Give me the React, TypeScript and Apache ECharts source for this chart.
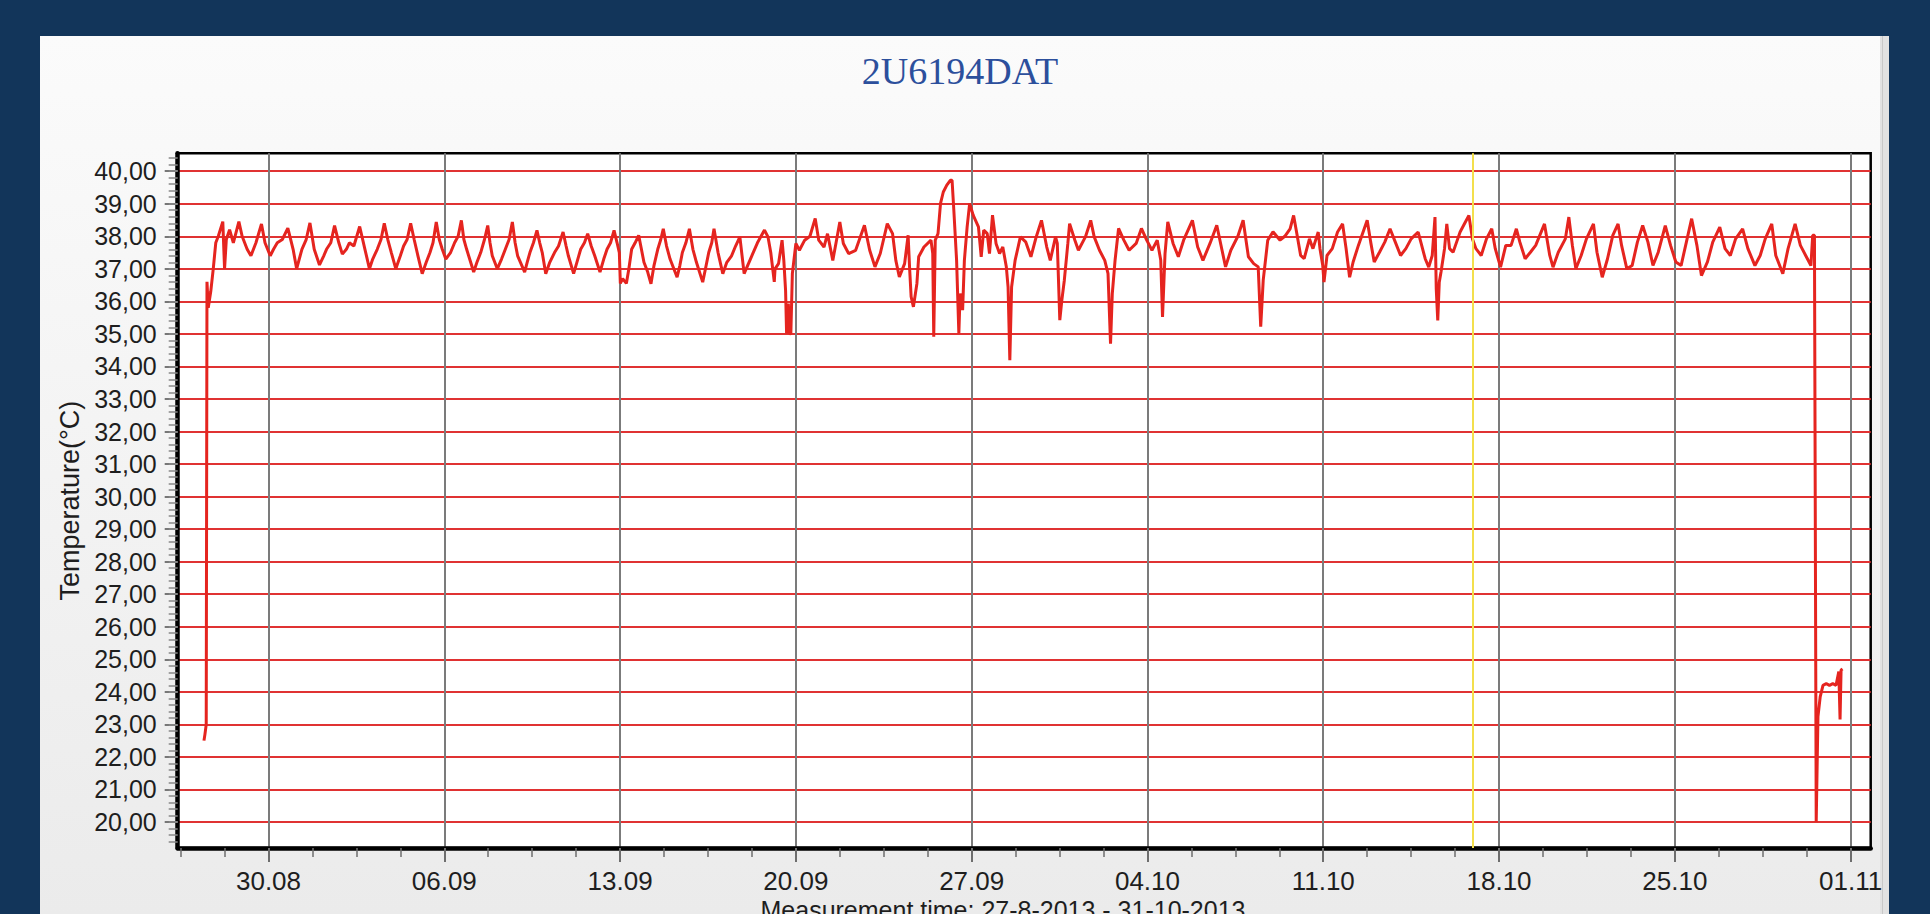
import React, { useEffect, useRef } from 'react';
import * as echarts from 'echarts';

const chartTitle = '2U6194DAT';
const yAxisTitle = 'Temperature(°C)';
const xAxisTitle = 'Measurement time: 27-8-2013 - 31-10-2013';

// time origin of the day offsets below (UTC)
const seriesStart = '2013-08-27T00:00:00Z';
const axisStart = '2013-08-26T09:13:00Z';
const axisEnd = '2013-11-01T19:12:00Z';
const markerTime = '2013-10-16T22:50:00Z';

const yMin = 19.2;
const yMax = 40.55;
const yTickValues = [20, 21, 22, 23, 24, 25, 26, 27, 28, 29, 30, 31, 32, 33, 34, 35, 36, 37, 38, 39, 40];
const xTickDates = ['2013-08-30', '2013-09-06', '2013-09-13', '2013-09-20', '2013-09-27', '2013-10-04', '2013-10-11', '2013-10-18', '2013-10-25', '2013-11-01'];

// days since seriesStart
const dayOffsets = [
  0.43, 0.47, 0.52, 0.55, 0.60, 0.70, 0.80, 0.90, 1.00, 1.18, 1.25, 1.32, 1.45, 1.60, 1.82, 1.95,
  2.15, 2.30, 2.50, 2.72, 2.86, 3.07, 3.20, 3.35, 3.55, 3.77, 3.98, 4.12, 4.33, 4.50, 4.65, 4.82,
  5.03, 5.20, 5.31, 5.48, 5.63, 5.80, 5.94, 6.10, 6.22, 6.40, 6.63, 6.84, 7.02, 7.15, 7.33, 7.48,
  7.61, 7.75, 7.89, 8.07, 8.25, 8.38, 8.52, 8.66, 8.80, 8.95, 9.12, 9.28, 9.43, 9.55, 9.68, 9.80,
  9.92, 10.06, 10.25, 10.41, 10.55, 10.68, 10.78, 10.89, 11.05, 11.17, 11.30, 11.45, 11.60, 11.73, 11.82, 11.91,
  12.11, 12.28, 12.43, 12.58, 12.71, 12.82, 12.92, 13.20, 13.30, 13.41, 13.55, 13.69, 13.80, 13.90, 14.04, 14.20,
  14.39, 14.55, 14.73, 14.85, 14.94, 15.15, 15.28, 15.43, 15.58, 15.71, 15.85, 15.99, 16.20, 16.35, 16.48, 16.62,
  16.76, 16.88, 16.97, 17.01, 17.10, 17.25, 17.35, 17.46, 17.60, 17.74, 17.85, 17.95, 18.10, 18.23, 18.35, 18.50,
  18.62, 18.72, 18.85, 18.99, 19.27, 19.38, 19.48, 19.62, 19.76, 19.90, 20.04, 20.29, 20.40, 20.53, 20.65, 20.74,
  20.90, 21.09, 21.25, 21.44, 21.60, 21.77, 21.94, 22.19, 22.47, 22.75, 22.89, 23.00, 23.14, 23.17, 23.31, 23.45,
  23.52, 23.59, 23.63, 23.66, 23.70, 23.75, 23.80, 23.86, 24.00, 24.14, 24.35, 24.56, 24.77, 24.91, 25.12, 25.26,
  25.47, 25.60, 25.75, 25.89, 26.10, 26.38, 26.73, 26.94, 27.15, 27.36, 27.64, 27.85, 27.98, 28.12, 28.33, 28.47,
  28.53, 28.59, 28.68, 28.82, 28.89, 29.10, 29.38, 29.45, 29.49, 29.55, 29.66, 29.76, 29.87, 30.01, 30.15, 30.22,
  30.29, 30.40, 30.49, 30.54, 30.64, 30.71, 30.82, 30.92, 31.06, 31.27, 31.38, 31.48, 31.62, 31.71, 31.83, 31.97,
  32.11, 32.24, 32.38, 32.45, 32.52, 32.59, 32.73, 32.94, 33.15, 33.36, 33.57, 33.78, 33.99, 34.13, 34.34, 34.41,
  34.51, 34.59, 34.69, 34.83, 34.90, 35.11, 35.25, 35.53, 35.74, 35.88, 36.09, 36.30, 36.43, 36.53, 36.60, 36.71,
  36.85, 37.06, 37.27, 37.55, 37.76, 37.97, 38.18, 38.39, 38.53, 38.60, 38.70, 38.81, 39.02, 39.23, 39.44, 39.79,
  40.00, 40.21, 40.49, 40.76, 40.97, 41.11, 41.32, 41.60, 41.81, 42.02, 42.23, 42.41, 42.51, 42.61, 42.79, 43.00,
  43.28, 43.47, 43.68, 43.82, 43.96, 44.10, 44.24, 44.45, 44.59, 44.80, 44.87, 44.98, 45.03, 45.15, 45.36, 45.57,
  45.77, 45.91, 46.05, 46.19, 46.40, 46.75, 46.89, 47.03, 47.24, 47.45, 47.66, 47.87, 48.08, 48.29, 48.50, 48.78,
  48.92, 49.06, 49.20, 49.34, 49.45, 49.50, 49.56, 49.62, 49.69, 49.83, 49.92, 50.03, 50.17, 50.31, 50.45, 50.66,
  50.80, 50.94, 51.08, 51.29, 51.50, 51.71, 51.85, 52.06, 52.27, 52.48, 52.69, 52.83, 53.04, 53.25, 53.46, 53.81,
  54.02, 54.15, 54.36, 54.64, 54.78, 54.92, 55.06, 55.27, 55.48, 55.76, 55.90, 56.11, 56.32, 56.53, 56.74, 56.88,
  57.09, 57.30, 57.51, 57.72, 57.93, 58.13, 58.34, 58.62, 58.83, 59.04, 59.25, 59.46, 59.67, 59.88, 60.06, 60.30,
  60.51, 60.79, 61.00, 61.21, 61.42, 61.70, 61.91, 62.19, 62.40, 62.60, 62.86, 63.02, 63.30, 63.51, 63.79, 64.00,
  64.21, 64.42, 64.49, 64.56, 64.63, 64.70, 64.79, 64.90, 65.03, 65.16, 65.29, 65.42, 65.53, 65.58, 65.62, 65.68,
];

const temperatures = [
  22.5, 22.7, 23.0, 36.6, 35.8, 36.3, 37.0, 37.8, 38.0, 38.45, 37.0, 37.9, 38.2, 37.8, 38.45, 38.0,
  37.6, 37.4, 37.8, 38.38, 37.8, 37.4, 37.6, 37.8, 37.9, 38.25, 37.6, 37.0, 37.6, 37.9, 38.41, 37.6,
  37.12, 37.4, 37.6, 37.8, 38.33, 37.8, 37.45, 37.6, 37.8, 37.7, 38.3, 37.6, 37.0, 37.3, 37.6, 37.9,
  38.4, 37.9, 37.5, 37.0, 37.4, 37.7, 37.9, 38.4, 37.9, 37.4, 36.85, 37.2, 37.5, 37.8, 38.44, 37.9,
  37.6, 37.3, 37.5, 37.8, 38.0, 38.49, 37.9, 37.6, 37.2, 36.9, 37.2, 37.5, 37.9, 38.33, 37.8, 37.4,
  37.0, 37.3, 37.6, 37.9, 38.44, 37.8, 37.4, 36.9, 37.2, 37.5, 37.8, 38.18, 37.8, 37.5, 36.85, 37.2,
  37.5, 37.7, 38.13, 37.7, 37.4, 36.85, 37.2, 37.6, 37.8, 38.08, 37.7, 37.4, 36.9, 37.3, 37.6, 37.8,
  38.18, 37.8, 37.5, 36.55, 36.7, 36.55, 37.0, 37.6, 37.8, 38.03, 37.6, 37.2, 36.9, 36.54, 37.1, 37.6,
  37.9, 38.23, 37.7, 37.3, 36.74, 37.1, 37.5, 37.8, 38.23, 37.6, 37.2, 36.59, 37.0, 37.5, 37.8, 38.23,
  37.5, 36.85, 37.2, 37.4, 37.7, 37.98, 36.85, 37.3, 37.8, 38.19, 37.98, 37.5, 36.6, 37.0, 37.16, 37.88,
  37.26, 36.34, 35.01, 35.5, 35.93, 35.0, 35.01, 36.85, 37.78, 37.57, 37.88, 38.0, 38.55, 37.88, 37.67, 38.08,
  37.26, 37.8, 38.44, 37.78, 37.47, 37.57, 38.34, 37.57, 37.06, 37.47, 38.39, 38.08, 37.26, 36.75, 37.16, 38.03,
  37.0, 36.14, 35.83, 36.55, 37.37, 37.67, 37.88, 37.47, 34.91, 37.88, 38.08, 39.01, 39.36, 39.57, 39.72, 39.72,
  38.8, 37.26, 35.01, 36.24, 35.73, 37.26, 38.29, 39.01, 38.65, 38.29, 37.37, 38.19, 38.08, 37.47, 38.65, 37.78,
  37.47, 37.67, 37.06, 36.44, 34.19, 36.44, 37.26, 37.98, 37.83, 37.37, 37.98, 38.49, 37.67, 37.26, 37.98, 37.78,
  35.42, 36.03, 36.65, 37.78, 38.39, 37.88, 37.57, 37.98, 38.49, 37.98, 37.57, 37.26, 36.85, 34.7, 36.24, 37.26,
  38.24, 37.88, 37.57, 37.78, 38.24, 37.88, 37.57, 37.88, 37.26, 35.52, 37.47, 38.44, 37.78, 37.37, 37.88, 38.49,
  37.67, 37.26, 37.78, 38.34, 37.57, 37.06, 37.57, 38.0, 38.49, 37.37, 37.16, 37.06, 35.22, 36.65, 37.88, 38.14,
  37.88, 38.0, 38.23, 38.64, 38.03, 37.41, 37.31, 37.92, 37.62, 38.13, 37.62, 37.1, 36.59, 37.41, 37.62, 38.13,
  38.38, 37.62, 36.74, 37.21, 37.72, 38.49, 37.82, 37.21, 37.51, 37.82, 38.23, 37.82, 37.41, 37.62, 37.92, 38.13,
  37.72, 37.31, 37.05, 37.41, 38.59, 36.38, 35.41, 36.59, 36.9, 37.62, 38.38, 37.62, 37.51, 37.82, 38.13, 38.44,
  38.64, 37.92, 37.62, 37.41, 37.92, 38.23, 37.62, 37.05, 37.72, 37.72, 38.23, 37.82, 37.31, 37.51, 37.72, 38.38,
  37.41, 37.05, 37.51, 37.92, 38.59, 37.72, 37.0, 37.41, 37.92, 38.38, 37.51, 36.74, 37.31, 38.03, 38.38, 37.72,
  37.0, 37.1, 37.82, 38.33, 37.82, 37.1, 37.51, 38.33, 37.72, 37.21, 37.1, 37.82, 38.54, 37.72, 36.79, 37.21,
  37.82, 38.28, 37.62, 37.41, 37.92, 38.23, 37.62, 37.1, 37.41, 37.92, 38.38, 37.41, 36.85, 37.62, 38.38, 37.72,
  37.41, 37.1, 38.03, 38.03, 20.0, 23.24, 23.85, 24.2, 24.25, 24.2, 24.25, 24.2, 24.62, 23.15, 24.67, 24.7,
];

const DAY = 86400000;

function pad(n: number) {
  return n < 10 ? '0' + n : '' + n;
}

export default function App() {
  const ref = useRef<HTMLDivElement>(null);

  useEffect(() => {
    document.body.style.margin = '0';
    if (!ref.current) return;
    const chart = echarts.init(ref.current, null, { renderer: 'svg' });

    const t0 = Date.parse(seriesStart);
    const points = dayOffsets.map((d, i) => [t0 + d * DAY, temperatures[i]]);
    const xTicks = xTickDates.map((s) => Date.parse(s + 'T00:00:00Z'));
    const xMinorTicks: number[] = [];
    for (let t = xTicks[0] - 2 * 1.75 * DAY; t <= xTicks[xTicks.length - 1] + 1; t += 1.75 * DAY) xMinorTicks.push(t);
    const yMinorTicks: number[] = [];
    for (let k = 97; k <= 202; k++) yMinorTicks.push(k / 5);

    const xMin = Date.parse(axisStart);
    const xMax = Date.parse(axisEnd);

    chart.setOption({
      animation: false,
      backgroundColor: '#12355a',
      graphic: [
        {
          type: 'rect',
          z: -10,
          shape: { x: 40, y: 36, width: 1849, height: 878 },
          style: {
            fill: new echarts.graphic.LinearGradient(0, 0, 0, 1, [
              { offset: 0, color: '#fbfbfb' },
              { offset: 1, color: '#ebebeb' },
            ]),
          },
        },
        { type: 'rect', z: -9, shape: { x: 1880, y: 36, width: 9, height: 878 }, style: { fill: '#e2e2e2' } },
        { type: 'line', z: -8, shape: { x1: 1882.5, y1: 36, x2: 1882.5, y2: 914 }, style: { stroke: '#c8c8c8', lineWidth: 1 } },
        {
          type: 'text',
          x: 960,
          y: 71,
          style: {
            text: chartTitle,
            font: '38px "Liberation Serif"',
            fill: '#2c4f9c',
            textAlign: 'center',
            textVerticalAlign: 'middle',
          },
        },
        {
          type: 'text',
          x: 1003,
          y: 897,
          style: {
            text: xAxisTitle,
            font: '25px "Liberation Sans"',
            fill: '#1e1e1e',
            textAlign: 'center',
            textVerticalAlign: 'top',
          },
        },
      ],
      grid: {
        left: 177.7,
        top: 153.3,
        width: 1693,
        height: 694.7,
        show: true,
        backgroundColor: '#ffffff',
        borderColor: '#000000',
        borderWidth: 2.5,
      },
      xAxis: [
        {
          type: 'value',
          min: xMin,
          max: xMax,
          position: 'bottom',
          axisLine: { show: true, lineStyle: { color: '#000', width: 4.5 } },
          axisTick: { show: true, customValues: xTicks, length: 14, lineStyle: { color: '#6e6e6e', width: 2 } },
          axisLabel: {
            customValues: xTicks,
            margin: 20,
            fontSize: 26,
            fontFamily: '"Liberation Sans", Arial, sans-serif',
            color: '#1e1e1e',
            formatter: (v: number) => {
              const d = new Date(v);
              return pad(d.getUTCDate()) + '.' + pad(d.getUTCMonth() + 1);
            },
          },
          splitLine: { show: true, lineStyle: { color: '#7b7b7b', width: 2 } },
        },
        {
          type: 'value',
          min: xMin,
          max: xMax,
          position: 'bottom',
          axisLine: { show: false },
          axisLabel: { show: false },
          splitLine: { show: false },
          axisTick: { show: true, customValues: xMinorTicks, length: 9, lineStyle: { color: '#6e6e6e', width: 1.5 } },
        },
      ],
      yAxis: [
        {
          type: 'value',
          min: yMin,
          max: yMax,
          position: 'left',
          name: yAxisTitle,
          nameLocation: 'middle',
          nameRotate: 90,
          nameGap: 86,
          nameTextStyle: { fontSize: 27, fontFamily: '"Liberation Sans", Arial, sans-serif', color: '#1e1e1e' },
          axisLine: { show: true, lineStyle: { color: '#000', width: 4.5 } },
          axisTick: { show: true, customValues: yTickValues, length: 13, lineStyle: { color: '#777', width: 2 } },
          axisLabel: {
            customValues: yTickValues,
            margin: 21,
            fontSize: 25,
            fontFamily: '"Liberation Sans", Arial, sans-serif',
            color: '#1e1e1e',
            formatter: (v: number) => v.toFixed(2).replace('.', ','),
          },
          splitLine: { show: true, lineStyle: { color: '#e03232', width: 2 } },
        },
        {
          type: 'value',
          min: yMin,
          max: yMax,
          position: 'left',
          axisLine: { show: false },
          axisLabel: { show: false },
          splitLine: { show: false },
          axisTick: { show: true, customValues: yMinorTicks, length: 9, lineStyle: { color: '#888', width: 1.5 } },
        },
      ],
      series: [
        {
          type: 'line',
          xAxisIndex: 0,
          yAxisIndex: 0,
          data: points,
          showSymbol: false,
          symbol: 'none',
          lineStyle: { color: '#e5241f', width: 3 },
          z: 3,
          markLine: {
            silent: true,
            symbol: ['none', 'none'],
            label: { show: false },
            lineStyle: { color: '#f3df4c', width: 2, type: 'solid' },
            data: [{ xAxis: Date.parse(markerTime) }],
          },
        },
      ],
    });

    return () => chart.dispose();
  }, []);

  return <div ref={ref} style={{ position: 'absolute', left: 0, top: 0, width: 1930, height: 914 }} />;
}
